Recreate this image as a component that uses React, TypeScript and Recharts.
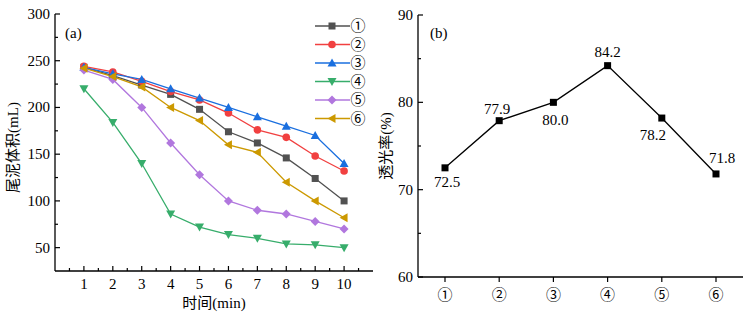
import React from 'react';
import { LineChart, Line, XAxis, YAxis, Legend, LabelList } from 'recharts';

// time axis (min)
const times = [1, 2, 3, 4, 5, 6, 7, 8, 9, 10];

// tailing volume (mL) per sample
const s1 = [243, 234, 224, 214, 198, 174, 162, 146, 124, 100];
const s2 = [244, 238, 228, 217, 208, 194, 176, 168, 148, 132];
const s3 = [243, 236, 230, 220, 210, 200, 190, 180, 170, 140];
const s4 = [220, 184, 140, 86, 72, 64, 60, 54, 53, 50];
const s5 = [240, 230, 200, 162, 128, 100, 90, 86, 78, 70];
const s6 = [242, 233, 222, 200, 186, 160, 152, 120, 100, 82];

const seriesNames = ['①', '②', '③', '④', '⑤', '⑥'];
const seriesColors = ['#515151', '#f14040', '#1a6fdf', '#37ad6b', '#b177de', '#cc9900'];
const seriesShapes = ['square', 'circle', 'up', 'down', 'diamond', 'left'];
const seriesValues = [s1, s2, s3, s4, s5, s6];

// transmittance (%) per sample
const samples = ['①', '②', '③', '④', '⑤', '⑥'];
const transmittance = [72.5, 77.9, 80.0, 84.2, 78.2, 71.8];

// ticks
const timeTicks = [0.5, 1, 1.5, 2, 2.5, 3, 3.5, 4, 4.5, 5, 5.5, 6, 6.5, 7, 7.5, 8, 8.5, 9, 9.5, 10, 10.5];
const volumeTicks = [50, 75, 100, 125, 150, 175, 200, 225, 250, 275, 300];
const transTicks = [60, 65, 70, 75, 80, 85, 90];

// label placement around each point of chart (b)
const labelOffsets = [
  { dx: 2, dy: 19 },
  { dx: -2, dy: -7 },
  { dx: 2, dy: 23 },
  { dx: 0, dy: -9 },
  { dx: -9, dy: 22 },
  { dx: 6, dy: -11 },
];

const FONT = "'Liberation Serif', 'Times New Roman', 'Noto Sans CJK SC', serif";

const volumeData = times.map((t, i) => {
  const row: any = { t };
  seriesValues.forEach((vals, k) => {
    row['s' + (k + 1)] = vals[i];
  });
  return row;
});

const transData = samples.map((c, i) => ({ cat: c, v: transmittance[i] }));

function Marker({ shape, cx, cy, color }: any) {
  if (cx == null || cy == null) return null;
  switch (shape) {
    case 'square':
      return <rect x={cx - 3.5} y={cy - 3.5} width={7} height={7} fill={color} />;
    case 'circle':
      return <circle cx={cx} cy={cy} r={3.8} fill={color} />;
    case 'up':
      return <polygon points={`${cx},${cy - 4.5} ${cx + 4.5},${cy + 3.5} ${cx - 4.5},${cy + 3.5}`} fill={color} />;
    case 'down':
      return <polygon points={`${cx},${cy + 4.5} ${cx + 4.5},${cy - 3.5} ${cx - 4.5},${cy - 3.5}`} fill={color} />;
    case 'diamond':
      return <polygon points={`${cx},${cy - 4.5} ${cx + 4.5},${cy} ${cx},${cy + 4.5} ${cx - 4.5},${cy}`} fill={color} />;
    case 'left':
      return <polygon points={`${cx - 4.5},${cy} ${cx + 3.5},${cy - 4.5} ${cx + 3.5},${cy + 4.5}`} fill={color} />;
    default:
      return null;
  }
}

function TimeTick({ x, y, payload }: any) {
  const v = payload.value;
  const major = Number.isInteger(v);
  return (
    <g>
      <line x1={x} x2={x} y1={y} y2={y - (major ? 5 : 3)} stroke="#000" strokeWidth={1.2} />
      {major && (
        <text x={x} y={y + 17.5} textAnchor="middle" fontSize={15} fill="#000" fontFamily={FONT}>
          {v}
        </text>
      )}
    </g>
  );
}

function VolumeTick({ x, y, payload }: any) {
  const v = payload.value;
  const major = v % 50 === 0;
  return (
    <g>
      <line x1={x} x2={x + (major ? 5 : 3)} y1={y} y2={y} stroke="#000" strokeWidth={1.2} />
      {major && (
        <text x={x - 5} y={y + 5} textAnchor="end" fontSize={15} fill="#000" fontFamily={FONT}>
          {v}
        </text>
      )}
    </g>
  );
}

function TransTick({ x, y, payload }: any) {
  const v = payload.value;
  const major = v % 10 === 0;
  return (
    <g>
      <line x1={x} x2={x + (major ? 5 : 3)} y1={y} y2={y} stroke="#000" strokeWidth={1.2} />
      {major && (
        <text x={x - 5} y={y + 5} textAnchor="end" fontSize={15} fill="#000" fontFamily={FONT}>
          {v}
        </text>
      )}
    </g>
  );
}

function SampleTick({ x, y, payload }: any) {
  return (
    <g>
      <line x1={x} x2={x} y1={y} y2={y + 5} stroke="#000" strokeWidth={1.2} />
      <text x={x} y={y + 23} textAnchor="middle" fontSize={15} fill="#000" fontFamily={FONT}>
        {payload.value}
      </text>
    </g>
  );
}

function VolumeLegend() {
  return (
    <svg width={70} height={115}>
      {seriesNames.map((name, i) => {
        const cy = 11 + i * 18.5;
        return (
          <g key={name}>
            <line x1={5} x2={40} y1={cy} y2={cy} stroke={seriesColors[i]} strokeWidth={1.3} />
            <Marker shape={seriesShapes[i]} cx={22} cy={cy} color={seriesColors[i]} />
            <text x={48} y={cy + 5} textAnchor="middle" fontSize={15} fill="#000" fontFamily={FONT}>
              {name}
            </text>
          </g>
        );
      })}
    </svg>
  );
}

function TransLabel({ x, y, value, index }: any) {
  const off = labelOffsets[index] || { dx: 0, dy: -8 };
  return (
    <text x={x + off.dx} y={y + off.dy} textAnchor="middle" fontSize={15} fill="#000" fontFamily={FONT}>
      {Number(value).toFixed(1)}
    </text>
  );
}

const axisStyle = { stroke: '#000', strokeWidth: 1.3 };

export default function App() {
  return (
    <div style={{ position: 'absolute', left: 0, top: 0, width: 748, height: 313, background: '#fff', fontFamily: FONT }}>
      <div style={{ position: 'absolute', left: 0, top: 0 }}>
        <LineChart width={380} height={313} data={volumeData} margin={{ top: 14, right: 7, left: 0, bottom: 0 }}>
          <XAxis
            dataKey="t"
            type="number"
            domain={[0, 11]}
            ticks={timeTicks}
            interval={0}
            height={42}
            tickSize={0}
            tickMargin={0}
            tickLine={false}
            axisLine={axisStyle}
            tick={<TimeTick />}
            label={{
              content: ({ viewBox }: any) => (
                <text x={viewBox.x + viewBox.width / 2} y={308} textAnchor="middle" fontSize={15} fill="#000" fontFamily={FONT}>
                  时间(min)
                </text>
              ),
            }}
          />
          <XAxis xAxisId="top" orientation="top" type="number" domain={[0, 11]} height={0} tick={false} tickLine={false} axisLine={axisStyle} />
          <YAxis
            type="number"
            domain={[25, 300]}
            ticks={volumeTicks}
            interval={0}
            width={55}
            tickSize={0}
            tickMargin={0}
            tickLine={false}
            axisLine={axisStyle}
            tick={<VolumeTick />}
            label={{
              content: ({ viewBox }: any) => {
                const cy = viewBox.y + viewBox.height / 2 + 5;
                return (
                  <text x={13} y={cy} transform={`rotate(-90, 13, ${cy})`} textAnchor="middle" dominantBaseline="central" fontSize={15} fill="#000" fontFamily={FONT}>
                    尾泥体积(mL)
                  </text>
                );
              },
            }}
          />
          <YAxis yAxisId="right" orientation="right" domain={[0, 1]} width={0} tick={false} tickLine={false} axisLine={axisStyle} />
          {seriesNames.map((name, k) => (
            <Line
              key={name}
              type="linear"
              dataKey={'s' + (k + 1)}
              name={name}
              stroke={seriesColors[k]}
              strokeWidth={1.3}
              isAnimationActive={false}
              activeDot={false}
              dot={(p: any) => <Marker key={p.index} shape={seriesShapes[k]} cx={p.cx} cy={p.cy} color={seriesColors[k]} />}
            />
          ))}
          <Legend
            layout="vertical"
            align="center"
            verticalAlign="middle"
            wrapperStyle={{ left: 310, top: 15, width: 70, height: 115 }}
            content={() => <VolumeLegend />}
          />
        </LineChart>
      </div>
      <div style={{ position: 'absolute', left: 65, top: 25, fontSize: 15, lineHeight: '16px' }}>(a)</div>

      <div style={{ position: 'absolute', left: 370, top: 0 }}>
        <LineChart width={378} height={313} data={transData} margin={{ top: 15, right: 5, left: 10, bottom: 0 }}>
          <XAxis
            dataKey="cat"
            height={36}
            interval={0}
            padding={{ left: 27, right: 27 }}
            tickSize={0}
            tickMargin={0}
            tickLine={false}
            axisLine={axisStyle}
            tick={<SampleTick />}
          />
          <XAxis xAxisId="top" orientation="top" dataKey="cat" height={0} tick={false} tickLine={false} axisLine={axisStyle} />
          <YAxis
            type="number"
            domain={[60, 90]}
            ticks={transTicks}
            interval={0}
            width={38}
            tickSize={0}
            tickMargin={0}
            tickLine={false}
            axisLine={axisStyle}
            tick={<TransTick />}
            label={{
              content: ({ viewBox }: any) => {
                const cy = viewBox.y + viewBox.height / 2;
                return (
                  <text x={16} y={cy} transform={`rotate(-90, 16, ${cy})`} textAnchor="middle" dominantBaseline="central" fontSize={15} fill="#000" fontFamily={FONT}>
                    透光率(%)
                  </text>
                );
              },
            }}
          />
          <YAxis yAxisId="right" orientation="right" domain={[0, 1]} width={0} tick={false} tickLine={false} axisLine={axisStyle} />
          <Line
            type="linear"
            dataKey="v"
            stroke="#000"
            strokeWidth={1.3}
            isAnimationActive={false}
            activeDot={false}
            dot={(p: any) => <Marker key={p.index} shape="square" cx={p.cx} cy={p.cy} color="#000" />}
          >
            <LabelList dataKey="v" content={<TransLabel />} />
          </Line>
        </LineChart>
      </div>
      <div style={{ position: 'absolute', left: 430, top: 25, fontSize: 15, lineHeight: '16px' }}>(b)</div>
    </div>
  );
}
